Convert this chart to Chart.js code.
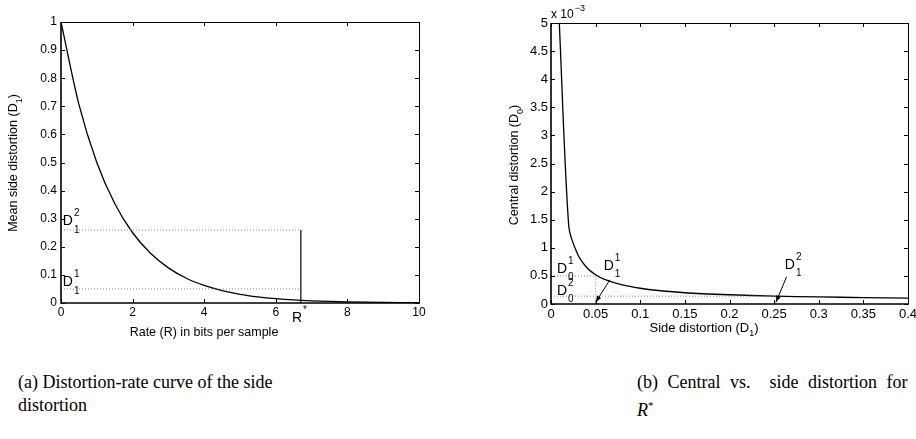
<!DOCTYPE html>
<html><head><meta charset="utf-8">
<script src="https://cdn.jsdelivr.net/npm/chart.js@4/dist/chart.umd.min.js"></script>
<style>
html,body{margin:0;padding:0;background:#fff;}
body{width:916px;height:439px;overflow:hidden;position:relative;}
#c1{position:absolute;left:0;top:0;width:460px;height:345px;}
#c2{position:absolute;left:460px;top:0;width:456px;height:345px;}
.cap{position:absolute;font-family:"Liberation Serif",serif;font-size:18px;line-height:23px;color:#000;white-space:nowrap;}
</style></head><body>
<canvas id="c1" width="460" height="345"></canvas>
<canvas id="c2" width="456" height="345"></canvas>
<div class="cap" style="left:18px;top:371px">(a) Distortion-rate curve of the side<br>distortion</div>
<div class="cap" style="left:637px;top:371px;word-spacing:5px">(b) Central vs.&nbsp; side distortion for<br><i>R</i><sup style="font-size:11px">*</sup></div>
<script>
// ---- (a) distortion-rate curve ----
const rateR  = [0,0.5,1,1.5,2,2.5,3,3.5,4,4.5,5,5.5,6,6.5,7,7.5,8,8.5,9,9.5,10];
const sideD  = [1.0,0.707,0.5,0.354,0.25,0.177,0.125,0.088,0.0625,0.044,0.031,0.022,0.0156,0.011,0.0078,0.0055,0.0039,0.0028,0.002,0.0014,0.001];
const rStar = 6.7;
const d1Two = 0.26, d1One = 0.05;
const xTicksA = [0,2,4,6,8,10];
const yTicksA = [0,0.1,0.2,0.3,0.4,0.5,0.6,0.7,0.8,0.9,1];

// ---- (b) central vs side distortion (central in units of 1e-3) ----
const sideD1    = [0.0093,0.02,0.03,0.04,0.05,0.06,0.08,0.1,0.12,0.15,0.2,0.25,0.3,0.35,0.4];
const centralD0 = [5.0,1.37,0.88,0.65,0.52,0.44,0.34,0.28,0.24,0.2,0.165,0.14,0.125,0.115,0.105];
const d0One = 0.5, d0Two = 0.14;
const d1OneB = 0.05, d1TwoB = 0.25;
const xTicksB = [0,0.05,0.1,0.15,0.2,0.25,0.3,0.35,0.4];
const yTicksB = [0,0.5,1,1.5,2,2.5,3,3.5,4,4.5,5];

const SANS = '"Liberation Sans", Arial, sans-serif';

function fmt(v){ return String(+v.toFixed(3)); }

function drawSym(ctx, x, y, base, sub, sup, size, subDy){
  ctx.save();
  ctx.fillStyle = '#000';
  ctx.textAlign = 'left'; ctx.textBaseline = 'alphabetic';
  ctx.font = size + 'px ' + SANS;
  ctx.fillText(base, x, y);
  const w = ctx.measureText(base).width;
  ctx.font = Math.round(size*0.7) + 'px ' + SANS;
  if (sup) ctx.fillText(sup, x + w + 1, y - size*0.62);
  if (sub) ctx.fillText(sub, x + w + 1, y + (subDy||7));
  ctx.restore();
}

function titleParts(ctx, pre, sub, post, size){
  ctx.font = size + 'px ' + SANS;
  const w1 = ctx.measureText(pre).width;
  const w3 = ctx.measureText(post).width;
  ctx.font = Math.round(size*0.72) + 'px ' + SANS;
  const w2 = ctx.measureText(sub).width;
  return {w1,w2,w3,total:w1+w2+w3};
}
function drawTitle(ctx, cx, cy, rot, pre, sub, post, size){
  ctx.save();
  ctx.translate(cx, cy);
  if (rot) ctx.rotate(-Math.PI/2);
  const m = titleParts(ctx, pre, sub, post, size);
  let x = -m.total/2;
  ctx.fillStyle = '#000'; ctx.textBaseline = 'middle'; ctx.textAlign = 'left';
  ctx.font = size + 'px ' + SANS;
  ctx.fillText(pre, x, 0); x += m.w1;
  ctx.font = Math.round(size*0.72) + 'px ' + SANS;
  ctx.fillText(sub, x, size*0.42); x += m.w2;
  ctx.font = size + 'px ' + SANS;
  ctx.fillText(post, x, 0);
  ctx.restore();
}

function frameAndTicks(chart){
  const ctx = chart.ctx, a = chart.chartArea;
  const xs = chart.scales.x, ys = chart.scales.y;
  ctx.save();
  ctx.strokeStyle = '#000';
  ctx.lineWidth = 1;
  const L = 4;
  ctx.beginPath();
  xs.ticks.forEach(t => {
    const px = Math.round(xs.getPixelForValue(t.value)) + 0.5;
    ctx.moveTo(px, a.bottom); ctx.lineTo(px, a.bottom - L);
    ctx.moveTo(px, a.top); ctx.lineTo(px, a.top + L);
  });
  ys.ticks.forEach(t => {
    const py = Math.round(ys.getPixelForValue(t.value)) + 0.5;
    ctx.moveTo(a.left, py); ctx.lineTo(a.left + L, py);
    ctx.moveTo(a.right, py); ctx.lineTo(a.right - L, py);
  });
  ctx.stroke();
  ctx.lineWidth = 1;
  ctx.beginPath();
  ctx.moveTo(a.left, a.top + 0.5); ctx.lineTo(a.right + 0.5, a.top + 0.5); ctx.lineTo(a.right + 0.5, a.bottom);
  ctx.stroke();
  ctx.lineWidth = 1.6;
  ctx.beginPath();
  ctx.moveTo(a.left, a.top); ctx.lineTo(a.left, a.bottom); ctx.lineTo(a.right + 1, a.bottom);
  ctx.stroke();
  ctx.restore();
}

function arrow(ctx, x1, y1, x2, y2){
  ctx.save();
  ctx.strokeStyle = '#000'; ctx.fillStyle = '#000'; ctx.lineWidth = 1;
  ctx.beginPath(); ctx.moveTo(x1, y1); ctx.lineTo(x2, y2); ctx.stroke();
  const ang = Math.atan2(y2 - y1, x2 - x1), h = 7, s = 0.35;
  ctx.beginPath();
  ctx.moveTo(x2, y2);
  ctx.lineTo(x2 - h*Math.cos(ang - s), y2 - h*Math.sin(ang - s));
  ctx.lineTo(x2 - h*Math.cos(ang + s), y2 - h*Math.sin(ang + s));
  ctx.closePath(); ctx.fill();
  ctx.restore();
}

function scaleCfg(ticksArr, fontSize, pad, fixed, isX){
  return {
    type: 'linear',
    min: ticksArr[0], max: ticksArr[ticksArr.length-1],
    grid: { display: false, drawTicks: false },
    border: { display: false },
    ticks: { color: '#000', font: { family: SANS, size: fontSize }, padding: pad,
             maxRotation: 0, autoSkip: false, callback: v => fmt(v) },
    afterBuildTicks: s => { s.ticks = ticksArr.map(v => ({ value: v })); },
    afterFit: s => {
      if (isX) s.height = fixed; else s.width = fixed;
      s.paddingLeft = 0; s.paddingRight = 0; s.paddingTop = 0; s.paddingBottom = 0;
    }
  };
}

const dotted = { borderColor: '#8a8a8a', borderWidth: 1, borderDash: [1, 2], pointRadius: 0, tension: 0, fill: false };

// ----- Chart (a) -----
new Chart(document.getElementById('c1'), {
  type: 'line',
  data: { datasets: [
    Object.assign({ data: [{x:0,y:d1Two},{x:rStar,y:d1Two}] }, dotted),
    Object.assign({ data: [{x:0,y:d1One},{x:rStar,y:d1One}] }, dotted),
    { data: [{x:rStar,y:0},{x:rStar,y:d1Two}], borderColor:'#000', borderWidth:1.2, pointRadius:0 },
    { data: rateR.map((r,i)=>({x:r,y:sideD[i]})), borderColor:'#000', borderWidth:1.3, pointRadius:0,
      cubicInterpolationMode:'monotone' }
  ]},
  options: {
    responsive: false, animation: false, devicePixelRatio: 1,
    layout: { padding: { left: 0, top: 22, right: 41, bottom: 0 } },
    plugins: { legend: { display: false }, tooltip: { enabled: false } },
    scales: {
      x: scaleCfg(xTicksA, 12, 2, 42, true),
      y: scaleCfg(yTicksA, 12, 4, 61, false)
    }
  },
  plugins: [{
    id: 'decorA',
    afterDraw(chart){
      const ctx = chart.ctx, xs = chart.scales.x, ys = chart.scales.y;
      frameAndTicks(chart);
      drawSym(ctx, xs.getPixelForValue(0.05), ys.getPixelForValue(0.278), 'D', '1', '2', 14, 8);
      drawSym(ctx, xs.getPixelForValue(0.05), ys.getPixelForValue(0.06), 'D', '1', '1', 14, 8);
      drawSym(ctx, xs.getPixelForValue(6.45), ys.getPixelForValue(-0.068), 'R', null, '*', 14);
      drawTitle(ctx, 14, 163, true, 'Mean side distortion (D', '1', ')', 12.5);
      drawTitle(ctx, 204, 333, false, 'Rate (R) in bits per sample', '', '', 12.5);
    }
  }]
});

// ----- Chart (b) -----
new Chart(document.getElementById('c2'), {
  type: 'line',
  data: { datasets: [
    Object.assign({ data: [{x:0,y:d0One},{x:d1OneB,y:d0One},{x:d1OneB,y:0}] }, dotted),
    Object.assign({ data: [{x:0,y:d0Two},{x:d1TwoB,y:d0Two}] }, dotted),
    { data: sideD1.map((d,i)=>({x:d,y:centralD0[i]})), borderColor:'#000', borderWidth:1.3, pointRadius:0,
      tension: 0.25, cubicInterpolationMode:'default' }
  ]},
  options: {
    responsive: false, animation: false, devicePixelRatio: 1,
    layout: { padding: { left: 0, top: 23, right: 8, bottom: 0 } },
    plugins: { legend: { display: false }, tooltip: { enabled: false } },
    scales: {
      x: scaleCfg(xTicksB, 13, 3, 41, true),
      y: scaleCfg(yTicksB, 13, 3, 91, false)
    }
  },
  plugins: [{
    id: 'decorB',
    afterDraw(chart){
      const ctx = chart.ctx, xs = chart.scales.x, ys = chart.scales.y;
      frameAndTicks(chart);
      drawSym(ctx, xs.getPixelForValue(0.0067), ys.getPixelForValue(0.55), 'D', '0', '1', 14, 7);
      drawSym(ctx, xs.getPixelForValue(0.0067), ys.getPixelForValue(0.16), 'D', '0', '2', 14, 7);
      drawSym(ctx, xs.getPixelForValue(0.059), ys.getPixelForValue(0.605), 'D', '1', '1', 14, 7);
      drawSym(ctx, xs.getPixelForValue(0.262), ys.getPixelForValue(0.62), 'D', '1', '2', 14, 7);
      arrow(ctx, xs.getPixelForValue(0.066), ys.getPixelForValue(0.43), xs.getPixelForValue(0.05), ys.getPixelForValue(0.03));
      arrow(ctx, xs.getPixelForValue(0.264), ys.getPixelForValue(0.486), xs.getPixelForValue(0.252), ys.getPixelForValue(0.03));
      ctx.save();
      ctx.fillStyle = '#000'; ctx.textAlign = 'left'; ctx.textBaseline = 'alphabetic';
      ctx.font = '12px ' + SANS;
      const lx = chart.chartArea.left, ly = 18;
      ctx.fillText('x 10', lx, ly);
      const w = ctx.measureText('x 10').width;
      ctx.font = '9px ' + SANS;
      ctx.fillText('\u22123', lx + w + 1, ly - 7);
      ctx.restore();
      drawTitle(ctx, 55, 165, true, 'Central distortion (D', '0', ')', 12.5);
      drawTitle(ctx, 244, 328, false, 'Side distortion (D', '1', ')', 13);
    }
  }]
});
</script>
</body></html>
